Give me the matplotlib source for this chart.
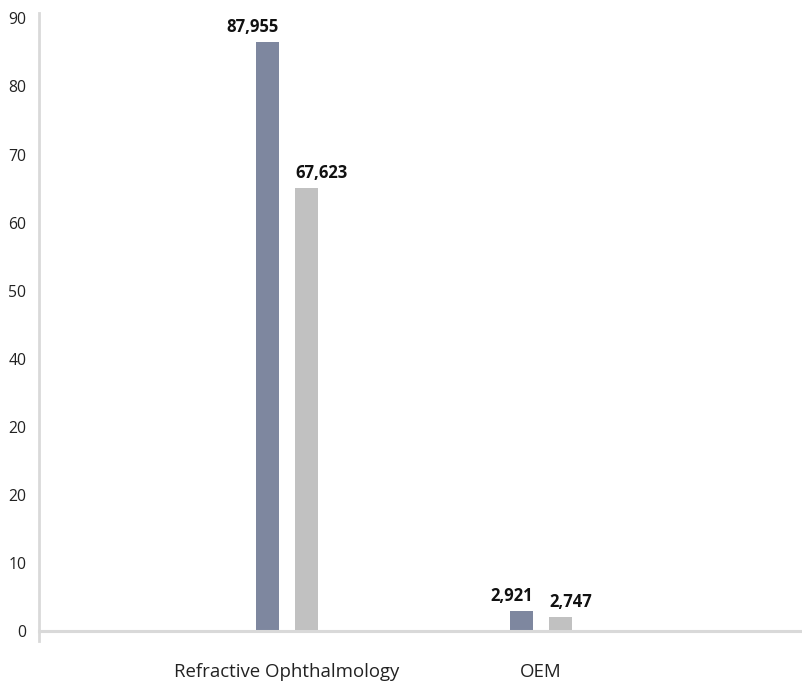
import matplotlib.pyplot as plt
import numpy as np

# data
categories = ["Refractive Ophthalmology", "OEM"]
series_a = [86.6, 2.94]       # drawn heights, dark bars
series_b = [65.05, 2.06]      # drawn heights, light bars
labels_a = ["87,955", "2,921"]
labels_b = ["67,623", "2,747"]
yticks = [0, 10, 20, 30, 40, 50, 60, 70, 80, 90]
ytick_labels = ["0", "10", "20", "20", "40", "50", "60", "70", "80", "90"]

dark = "#7e879f"
light = "#c1c1c1"
axis_col = "#d9d9d9"
font = ["Open Sans", "DejaVu Sans"]

fig = plt.figure(figsize=(8.03, 6.89), dpi=100)
ax = fig.add_axes([39 / 803, (689 - 641) / 689, (803 - 39) / 803, (641 - 13) / 689])

x = np.arange(len(categories))
w = 0.0906
off = 0.0768
bars_a = ax.bar(x - off, series_a, w, color=dark)
bars_b = ax.bar(x + off, series_b, w, color=light)

for b, t in zip(bars_a, labels_a):
    ax.annotate(t, (b.get_x() + b.get_width(), b.get_height()), xytext=(0, 10),
                textcoords="offset pixels", ha="right", va="baseline",
                fontsize=12, fontweight="bold", color="#111111", family=font)
for b, t in zip(bars_b, labels_b):
    ax.annotate(t, (b.get_x(), b.get_height()), xytext=(0, 10),
                textcoords="offset pixels", ha="left", va="baseline",
                fontsize=12, fontweight="bold", color="#111111", family=font)

ax.set_xlim(-0.976, 2.03)
ax.set_ylim(-1.5, 90.8)

ax.spines["top"].set_visible(False)
ax.spines["right"].set_visible(False)
ax.spines["bottom"].set_position(("data", 0))
ax.spines["bottom"].set_color(axis_col)
ax.spines["bottom"].set_linewidth(2.2)
ax.spines["left"].set_color(axis_col)
ax.spines["left"].set_linewidth(2)

ax.set_yticks(yticks)
ax.set_yticklabels(ytick_labels, fontsize=11.3, color="#222222", family=font)
ax.tick_params(axis="y", length=0, pad=9)
# little stub of the baseline left of the y axis
ax.set_yticks([0], minor=True)
ax.tick_params(axis="y", which="minor", length=5, width=2.2, color=axis_col)

ax.set_xticks(x)
ax.set_xticklabels(categories, fontsize=13.4, color="#222222", family=font)
ax.tick_params(axis="x", length=0, pad=23)

fig.savefig("out.png", dpi=100)
